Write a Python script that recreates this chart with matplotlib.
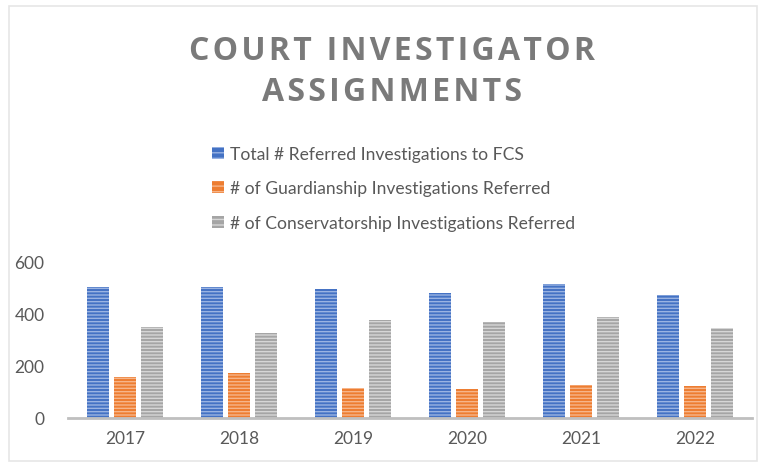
import matplotlib.pyplot as plt
import matplotlib.patches as mpatches
import numpy as np

# values
years = ['2017', '2018', '2019', '2020', '2021', '2022']
total_referred = [504, 503, 495, 479, 515, 473]
guardianship = [157, 170, 115, 111, 127, 121]
conservatorship = [347, 327, 376, 369, 386, 345]

series_names = ['Total # Referred Investigations to FCS',
                '# of Guardianship Investigations Referred',
                '# of Conservatorship Investigations Referred']
face_colors = ['#4472C4', '#ED7D31', '#A5A5A5']
stripe_colors = ['#9AB3E2', '#F6B58A', '#D6D6D6']

plt.rcParams['font.family'] = ['Lato', 'DejaVu Sans']
plt.rcParams['hatch.linewidth'] = 1.0

fig = plt.figure(figsize=(7.65, 4.64), dpi=100)
ax = fig.add_axes([0.089, 0.098, 0.894, 0.336])

x = np.arange(len(years))
width = 0.193
offset = 0.237
all_series = [total_referred, guardianship, conservatorship]
for i, vals in enumerate(all_series):
    ax.bar(x + (i - 1) * offset, vals, width, color=face_colors[i],
           edgecolor=stripe_colors[i], hatch='-----', linewidth=0)

ax.set_xlim(-0.5, len(years) - 0.5)
ax.set_ylim(0, 600)
ax.set_yticks([0, 200, 400, 600])
ax.set_xticks(x)
ax.set_xticklabels(years)
ax.tick_params(axis='both', length=0, labelsize=12.5, colors='#595959')
ax.tick_params(axis='y', pad=17)
ax.tick_params(axis='x', pad=9)
for s in ['top', 'right', 'left']:
    ax.spines[s].set_visible(False)
ax.spines['bottom'].set_color('#BFBFBF')
ax.spines['bottom'].set_linewidth(2)

# title, slightly spaced out like the original
def spaced(s):
    return '\u200a'.join(s)

title_font = ['Open Sans', 'DejaVu Sans']
fig.text(0.513, 0.890, spaced('COURT INVESTIGATOR'), ha='center', va='center',
         fontsize=23, fontweight='bold', color='#7A7A7A', family=title_font)
fig.text(0.513, 0.800, spaced('ASSIGNMENTS'), ha='center', va='center',
         fontsize=23, fontweight='bold', color='#7A7A7A', family=title_font)

handles = [mpatches.Patch(facecolor=face_colors[i], edgecolor=stripe_colors[i],
                          hatch='---', linewidth=0) for i in range(3)]
fig.legend(handles, series_names, loc='upper left', bbox_to_anchor=(0.266, 0.702),
           frameon=False, fontsize=12.6, labelcolor='#595959',
           handlelength=0.7, handleheight=0.7, handletextpad=0.3,
           labelspacing=1.05, borderpad=0)

# faint frame around the whole picture
fig.add_artist(mpatches.Rectangle((0.012, 0.005), 0.978, 0.98, transform=fig.transFigure,
                                  fill=False, edgecolor='#E6E6E6', linewidth=1.2))

fig.savefig('out.png', dpi=100)
